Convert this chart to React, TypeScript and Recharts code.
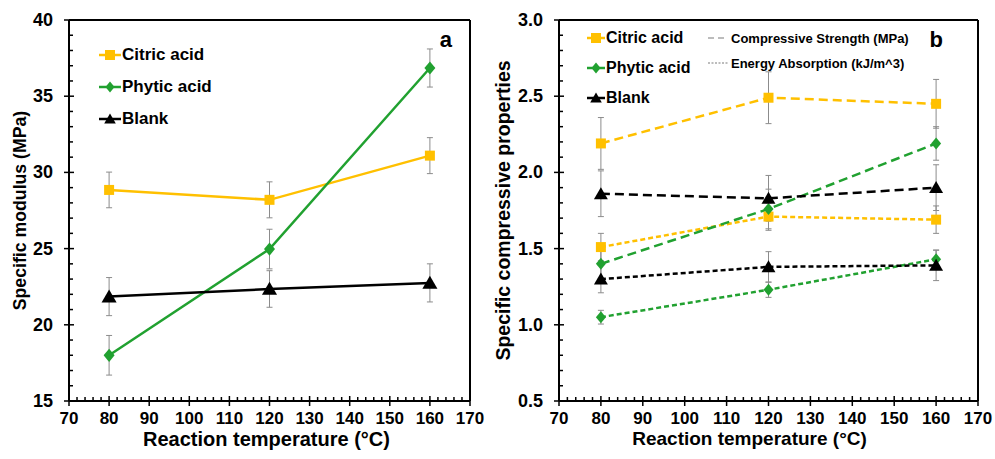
import React from "react";
import { LineChart, Line, XAxis, YAxis, ErrorBar, Legend } from "recharts";

const FONT = "'Liberation Sans', Arial, Helvetica, sans-serif";
const ORANGE = "#FFC000";
const GREEN = "#21A130";
const BLACK = "#000000";
const ERR = "#8c8c8c";

// reaction temperatures (°C)
const temps = [80, 120, 160];

// panel a: specific modulus (MPa)
const citricModulus = [28.85, 28.2, 31.1];
const citricModulusErr = [1.17, 1.18, 1.18];
const phyticModulus = [18.0, 24.97, 36.85];
const phyticModulusErr = [1.3, 1.3, 1.25];
const blankModulus = [21.85, 22.35, 22.75];
const blankModulusErr = [1.25, 1.2, 1.25];

// panel b: compressive strength (CS) and energy absorption (EA)
const citricCS = [2.19, 2.49, 2.45];
const citricCSErr = [0.17, 0.17, 0.16];
const citricEA = [1.51, 1.71, 1.69];
const citricEAErr = [0.09, 0.09, 0.09];
const phyticCS = [1.4, 1.76, 2.19];
const phyticCSErr = [0.1, 0.13, 0.11];
const phyticEA = [1.05, 1.23, 1.43];
const phyticEAErr = [0.045, 0.05, 0.06];
const blankCS = [1.86, 1.83, 1.9];
const blankCSErr = [0.15, 0.15, 0.15];
const blankEA = [1.3, 1.38, 1.39];
const blankEAErr = [0.09, 0.1, 0.1];

// axis ticks: every value gets a small tick, labelled ones get a long one
const xTicks = Array.from({ length: 51 }, (_, i) => 70 + i * 2);
const xLabelled = [70, 80, 90, 100, 110, 120, 130, 140, 150, 160, 170];
const yTicksA = Array.from({ length: 26 }, (_, i) => 15 + i);
const yLabelledA = [15, 20, 25, 30, 35, 40];
const yTicksB = Array.from({ length: 26 }, (_, i) => +(0.5 + i * 0.1).toFixed(1));
const yLabelledB = [0.5, 1.0, 1.5, 2.0, 2.5, 3.0];

const seriesNames = ["Citric acid", "Phytic acid", "Blank"];
const seriesColors = [ORANGE, GREEN, BLACK];
const seriesShapes = ["square", "diamond", "triangle"];

const dataA = temps.map((t, i) => ({
  t,
  citric: citricModulus[i],
  citricErr: citricModulusErr[i],
  phytic: phyticModulus[i],
  phyticErr: phyticModulusErr[i],
  blank: blankModulus[i],
  blankErr: blankModulusErr[i],
}));

const dataB = temps.map((t, i) => ({
  t,
  cCS: citricCS[i],
  cCSErr: citricCSErr[i],
  cEA: citricEA[i],
  cEAErr: citricEAErr[i],
  pCS: phyticCS[i],
  pCSErr: phyticCSErr[i],
  pEA: phyticEA[i],
  pEAErr: phyticEAErr[i],
  bCS: blankCS[i],
  bCSErr: blankCSErr[i],
  bEA: blankEA[i],
  bEAErr: blankEAErr[i],
}));

const shapePath = (shape: string, cx: number, cy: number, s: number) => {
  if (shape === "square")
    return `M${cx - s / 2},${cy - s / 2}h${s}v${s}h${-s}Z`;
  if (shape === "diamond")
    return `M${cx},${cy - s * 0.6}L${cx + s * 0.5},${cy}L${cx},${cy + s * 0.6}L${cx - s * 0.5},${cy}Z`;
  return `M${cx},${cy - s * 0.55}L${cx + s * 0.58},${cy + s * 0.45}L${cx - s * 0.58},${cy + s * 0.45}Z`;
};

const makeDot = (shape: string, color: string, s: number) => (p: any) => {
  if (p.cx == null || p.cy == null) return <g key={p.index} />;
  return <path key={p.index} d={shapePath(shape, p.cx, p.cy, s)} fill={color} />;
};

const isIn = (v: number, list: number[]) => list.some((l) => Math.abs(l - v) < 1e-6);

const XTick = ({ x, y, payload, labelled }: any) => {
  const major = isIn(payload.value, labelled);
  return (
    <g>
      <line
        x1={x}
        x2={x}
        y1={y - (major ? 5 : 4)}
        y2={major ? y + 5 : y}
        stroke="#000"
        strokeWidth={1.5}
      />
      {major && (
        <text x={x} y={y + 23} textAnchor="middle" fontFamily={FONT} fontWeight={700} fontSize={17} fill="#000">
          {payload.value}
        </text>
      )}
    </g>
  );
};

const YTick = ({ x, y, payload, labelled, digits }: any) => {
  const major = isIn(payload.value, labelled);
  return (
    <g>
      <line
        x1={major ? x - 5 : x}
        x2={x + (major ? 5 : 4)}
        y1={y}
        y2={y}
        stroke="#000"
        strokeWidth={1.5}
      />
      {major && (
        <text
          x={x - 16}
          y={y}
          textAnchor="end"
          dominantBaseline="central"
          fontFamily={FONT}
          fontWeight={700}
          fontSize={18}
          fill="#000">
          {Number(payload.value).toFixed(digits)}
        </text>
      )}
    </g>
  );
};

const LegendRow = ({ i, lineW, fontSize, h }: any) => (
  <div style={{ display: "flex", alignItems: "center", height: h }}>
    <svg width={lineW} height={14} style={{ display: "block" }}>
      <line x1={0} y1={7} x2={lineW} y2={7} stroke={seriesColors[i]} strokeWidth={2.5} />
      <path
        d={shapePath(seriesShapes[i], lineW / 2, 7, seriesShapes[i] === "diamond" ? 9 : 10)}
        fill={seriesColors[i]}
      />
    </svg>
    <span style={{ fontSize, fontWeight: 700, marginLeft: 1, color: "#000", whiteSpace: "nowrap" }}>
      {seriesNames[i]}
    </span>
  </div>
);

const LegendA = () => (
  <div style={{ fontFamily: FONT }}>
    {seriesNames.map((_, i) => (
      <LegendRow key={i} i={i} lineW={22} fontSize={17} h={32} />
    ))}
  </div>
);

const styleNames = ["Compressive Strength (MPa)", "Energy Absorption (kJ/m^3)"];
const styleDashes = ["6 4", "2 1.5"];

const LegendB = () => (
  <div style={{ fontFamily: FONT, position: "relative", width: 330 }}>
    {seriesNames.map((_, i) => (
      <LegendRow key={i} i={i} lineW={18} fontSize={16} h={30} />
    ))}
    {styleNames.map((n, i) => (
      <div
        key={n}
        style={{
          position: "absolute",
          left: 121,
          top: 6 + i * 25,
          height: 18,
          display: "flex",
          alignItems: "center",
        }}>
        <svg width={20} height={10} style={{ display: "block" }}>
          <line x1={0} y1={5} x2={20} y2={5} stroke="#a6a6a6" strokeWidth={1.5} strokeDasharray={styleDashes[i]} />
        </svg>
        <span style={{ fontSize: 13, fontWeight: 700, marginLeft: 3, whiteSpace: "nowrap" }}>{n}</span>
      </div>
    ))}
  </div>
);

const VLabel = ({ viewBox, text, dx, size }: any) => {
  const x = viewBox.x + dx;
  const y = viewBox.y + viewBox.height / 2;
  return (
    <text
      x={x}
      y={y}
      transform={`rotate(-90 ${x} ${y})`}
      textAnchor="middle"
      dominantBaseline="central"
      fontFamily={FONT}
      fontWeight={700}
      fontSize={size}
      fill="#000">
      {text}
    </text>
  );
};

const HLabel = ({ viewBox, text, dx, dy, size }: any) => (
  <text
    x={viewBox.x + viewBox.width / 2 + dx}
    y={viewBox.y + dy}
    textAnchor="middle"
    fontFamily={FONT}
    fontWeight={700}
    fontSize={size}
    fill="#000">
    {text}
  </text>
);

const PanelTag = ({ viewBox, text, right, base, size }: any) => (
  <text
    x={viewBox.x + viewBox.width - right}
    y={viewBox.y + viewBox.height + base}
    textAnchor="end"
    fontFamily={FONT}
    fontWeight={700}
    fontSize={size}
    fill="#000">
    {text}
  </text>
);

const lineProps = {
  type: "linear" as const,
  isAnimationActive: false,
  activeDot: false,
};

const errProps = { direction: "y" as const, width: 3, stroke: ERR, strokeWidth: 1 };
const frameLine = { stroke: "#000", strokeWidth: 2 };

export default function App() {
  return (
    <div
      style={{
        position: "absolute",
        left: 0,
        top: 0,
        width: 995,
        height: 459,
        background: "#fff",
        fontFamily: FONT,
      }}>
      <div style={{ position: "absolute", left: 0, top: 0 }}>
        <LineChart width={490} height={459} data={dataA} margin={{ top: 19, right: 19, left: 0, bottom: 0 }}>
          <XAxis
            dataKey="t"
            type="number"
            domain={[70, 170]}
            ticks={xTicks}
            interval={0}
            height={58}
            tickSize={0}
            tickMargin={0}
            tickLine={false}
            tick={<XTick labelled={xLabelled} />}
            axisLine={frameLine}
            label={<HLabel text="Reaction temperature (°C)" dx={-3} dy={45} size={20} />}
          />
          <XAxis
            xAxisId="top"
            orientation="top"
            dataKey="t"
            type="number"
            domain={[70, 170]}
            ticks={[70, 170]}
            height={1}
            tick={false}
            tickLine={false}
            axisLine={frameLine}
            label={<PanelTag text="a" right={18} base={27} size={22} />}
          />
          <YAxis
            type="number"
            domain={[15, 40]}
            ticks={yTicksA}
            interval={0}
            width={69}
            tickSize={0}
            tickMargin={0}
            tickLine={false}
            tick={<YTick labelled={yLabelledA} digits={0} />}
            axisLine={frameLine}
            label={<VLabel text="Specific modulus (MPa)" dx={20} size={17.7} />}
          />
          <YAxis
            yAxisId="right"
            orientation="right"
            type="number"
            domain={[15, 40]}
            ticks={[15, 40]}
            width={1}
            tick={false}
            tickLine={false}
            axisLine={frameLine}
          />
          <Line {...lineProps} dataKey="citric" stroke={ORANGE} strokeWidth={2.5} dot={makeDot("square", ORANGE, 10)}>
            <ErrorBar dataKey="citricErr" {...errProps} />
          </Line>
          <Line {...lineProps} dataKey="phytic" stroke={GREEN} strokeWidth={2.5} dot={makeDot("diamond", GREEN, 11)}>
            <ErrorBar dataKey="phyticErr" {...errProps} />
          </Line>
          <Line {...lineProps} dataKey="blank" stroke={BLACK} strokeWidth={2.5} dot={makeDot("triangle", BLACK, 13)}>
            <ErrorBar dataKey="blankErr" {...errProps} />
          </Line>
          <Legend
            layout="horizontal"
            verticalAlign="middle"
            align="center"
            content={() => <LegendA />}
            wrapperStyle={{ left: 99, top: 39, width: "auto", height: "auto" }}
          />
        </LineChart>
      </div>

      <div style={{ position: "absolute", left: 490, top: 0 }}>
        <LineChart width={505} height={459} data={dataB} margin={{ top: 19, right: 16, left: 0, bottom: 0 }}>
          <XAxis
            dataKey="t"
            type="number"
            domain={[70, 170]}
            ticks={xTicks}
            interval={0}
            height={58}
            tickSize={0}
            tickMargin={0}
            tickLine={false}
            tick={<XTick labelled={xLabelled} />}
            axisLine={frameLine}
            label={<HLabel text="Reaction temperature (°C)" dx={-19} dy={44} size={19} />}
          />
          <XAxis
            xAxisId="top"
            orientation="top"
            dataKey="t"
            type="number"
            domain={[70, 170]}
            ticks={[70, 170]}
            height={1}
            tick={false}
            tickLine={false}
            axisLine={frameLine}
            label={<PanelTag text="b" right={35} base={27} size={22} />}
          />
          <YAxis
            type="number"
            domain={[0.5, 3]}
            ticks={yTicksB}
            interval={0}
            width={69}
            tickSize={0}
            tickMargin={0}
            tickLine={false}
            tick={<YTick labelled={yLabelledB} digits={1} />}
            axisLine={frameLine}
            label={<VLabel text="Specific compressive properties" dx={13} size={19.5} />}
          />
          <YAxis
            yAxisId="right"
            orientation="right"
            type="number"
            domain={[0.5, 3]}
            ticks={[0.5, 3]}
            width={1}
            tick={false}
            tickLine={false}
            axisLine={frameLine}
          />
          <Line {...lineProps} dataKey="cCS" stroke={ORANGE} strokeWidth={2.5} strokeDasharray="9 5" dot={makeDot("square", ORANGE, 10)}>
            <ErrorBar dataKey="cCSErr" {...errProps} />
          </Line>
          <Line {...lineProps} dataKey="cEA" stroke={ORANGE} strokeWidth={2.5} strokeDasharray="5 3" dot={makeDot("square", ORANGE, 10)}>
            <ErrorBar dataKey="cEAErr" {...errProps} />
          </Line>
          <Line {...lineProps} dataKey="pCS" stroke={GREEN} strokeWidth={2.5} strokeDasharray="9 5" dot={makeDot("diamond", GREEN, 10)}>
            <ErrorBar dataKey="pCSErr" {...errProps} />
          </Line>
          <Line {...lineProps} dataKey="pEA" stroke={GREEN} strokeWidth={2.5} strokeDasharray="5 3" dot={makeDot("diamond", GREEN, 10)}>
            <ErrorBar dataKey="pEAErr" {...errProps} />
          </Line>
          <Line {...lineProps} dataKey="bCS" stroke={BLACK} strokeWidth={2.5} strokeDasharray="9 5" dot={makeDot("triangle", BLACK, 12)}>
            <ErrorBar dataKey="bCSErr" {...errProps} />
          </Line>
          <Line {...lineProps} dataKey="bEA" stroke={BLACK} strokeWidth={2.5} strokeDasharray="5 3" dot={makeDot("triangle", BLACK, 12)}>
            <ErrorBar dataKey="bEAErr" {...errProps} />
          </Line>
          <Legend
            layout="horizontal"
            verticalAlign="middle"
            align="center"
            content={() => <LegendB />}
            wrapperStyle={{ left: 97, top: 23, width: "auto", height: "auto" }}
          />
        </LineChart>
      </div>
    </div>
  );
}
